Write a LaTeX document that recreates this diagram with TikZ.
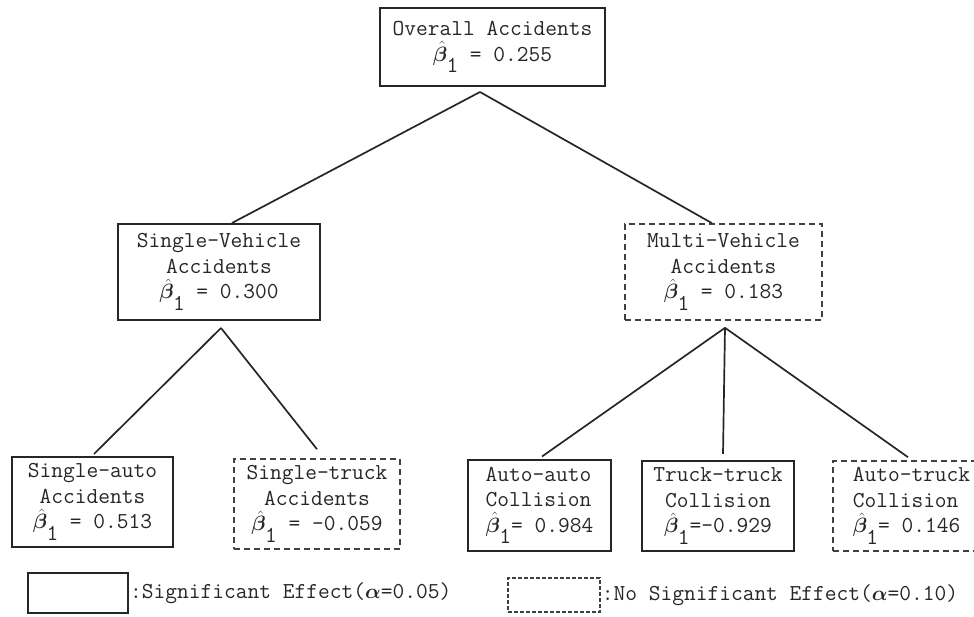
\documentclass[tikz,border=0pt]{standalone}
\usepackage{fontspec}
\usepackage{bm}
\usetikzlibrary{calc}
\newcommand\bhat{\makebox[0.6em][l]{$\hat{\bm\beta}$}\raisebox{-0.5em}{1}}
\tikzset{
  txt/.style={font=\ttfamily\fontsize{22.8}{25.5}\selectfont, text=black!85},
  sigbox/.style={txt, draw=black!85, line width=2pt, inner sep=0pt, align=center},
  nsbox/.style={txt, draw=black!75, line width=1.6pt, dash pattern=on 6pt off 4pt, inner sep=0pt, align=center},
  link/.style={draw=black!85, line width=1.7pt}
}
\begin{document}
\begin{tikzpicture}[x=1pt,y=1pt]
\useasboundingbox (0,0) rectangle (974,616);
% nodes
\node[sigbox, minimum width=225pt, minimum height=78pt] (ov) at (492.5,569) {Overall Accidents\\\bhat{} = 0.255};
\node[sigbox, minimum width=202pt, minimum height=96pt] (sv) at (219,344) {Single-Vehicle\\Accidents\\\bhat{} = 0.300};
\node[nsbox, minimum width=197pt, minimum height=96pt] (mv) at (723.5,344) {Multi-Vehicle\\Accidents\\\bhat{} = 0.183};
\node[sigbox, minimum width=161pt, minimum height=90pt] (sa) at (92.5,114) {Single-auto\\Accidents\\\bhat{} = 0.513};
\node[nsbox, minimum width=166pt, minimum height=90pt] (st) at (317,112) {Single-truck\\Accidents\\\bhat{} = -0.059};
\node[sigbox, align=left, minimum width=143pt, minimum height=91pt] (aa) at (539.5,110.5) {Auto-auto\\Collision\\\bhat{}= 0.984};
\node[sigbox, minimum width=152pt, minimum height=90pt] (tt) at (718,110) {Truck-truck\\Collision\\\bhat{}=-0.929};
\node[nsbox, align=left, minimum width=157pt, minimum height=90pt] (at) at (911.5,110) {Auto-truck\\Collision\\\bhat{}= 0.146};
% apex coordinates
\coordinate (ovA) at ([xshift=-12.5pt,yshift=-5pt]ov.south);
\coordinate (svA) at ([xshift=2pt,yshift=-7pt]sv.south);
\coordinate (mvA) at ([xshift=1.5pt,yshift=-7pt]mv.south);
% connectors
\draw[link] (ovA) -- ([xshift=13pt]sv.north);
\draw[link] (ovA) -- ([xshift=-11.5pt]mv.north);
\draw[link] (svA) -- ([xshift=1.5pt,yshift=2pt]sa.north);
\draw[link] (svA) -- ([yshift=9pt]st.north);
\draw[link] (mvA) -- ([xshift=2.5pt,yshift=2.5pt]aa.north);
\draw[link] (mvA) -- ([xshift=5pt,yshift=6pt]tt.north);
\draw[link] (mvA) -- ([xshift=-3.5pt,yshift=3pt]at.north);
% legend
\node[sigbox, minimum width=100pt, minimum height=40pt] (legS) at (78,23) {};
\node[txt, anchor=west, inner sep=1pt] (legST) at (legS.east) {:Significant Effect($\bm\alpha$=0.05)};
\node[draw=black!75, line width=1.3pt, dash pattern=on 4pt off 2pt, minimum width=92pt, minimum height=34pt, inner sep=0pt] (legN) at (554,21) {};
\node[txt, anchor=west, inner sep=1pt] (legNT) at (legN.east) {:No Significant Effect($\bm\alpha$=0.10)};
\end{tikzpicture}
\end{document}
